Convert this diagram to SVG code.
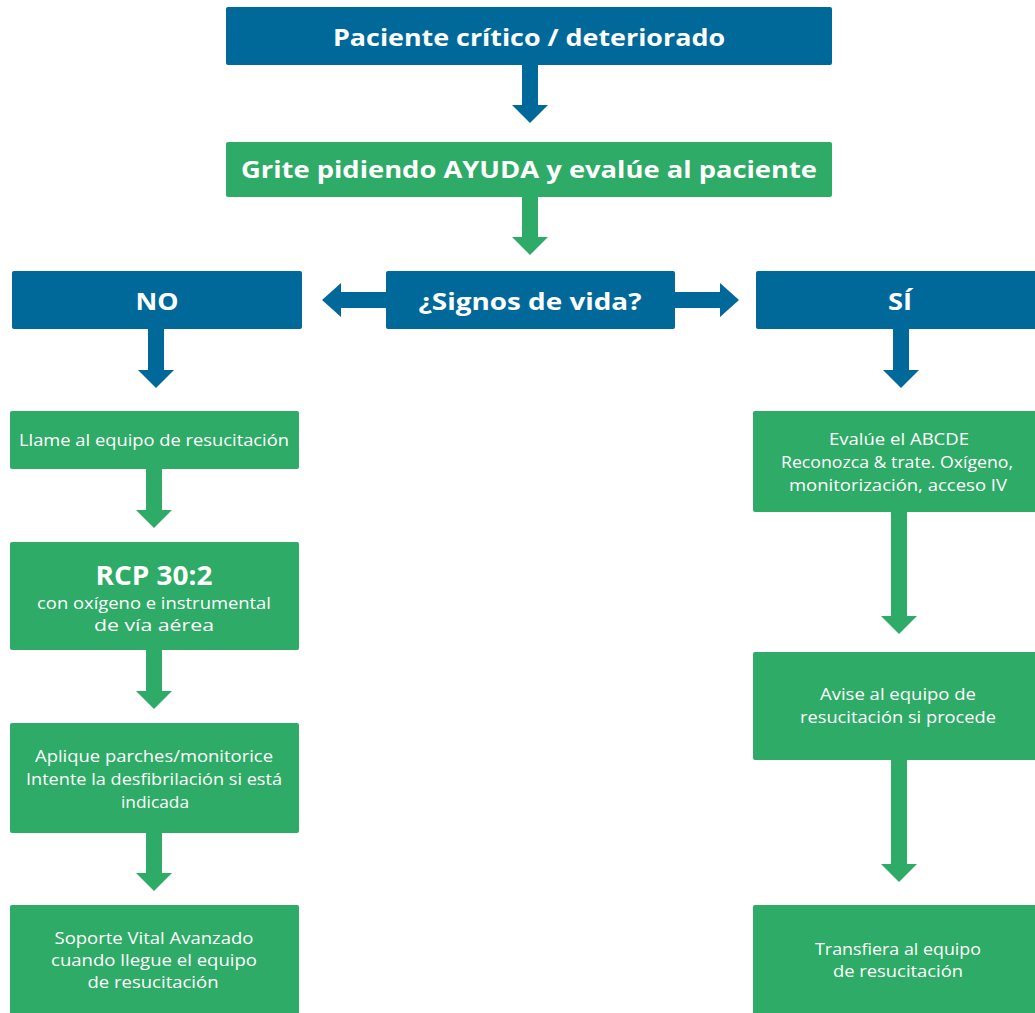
<svg xmlns="http://www.w3.org/2000/svg" width="1035" height="1013" viewBox="0 0 1035 1013">
<defs>
<style>
.blue{fill:#00699a}
.green{fill:#2eab66}
.t{fill:#fff;font-family:"Open Sans","Noto Sans","Liberation Sans",sans-serif;text-anchor:middle}
.b{font-weight:700}
.h{font-size:24px}
.s{font-size:16px}
</style>
</defs>
<rect width="1035" height="1013" fill="#fff"/>
<g id="connectors">
<polygon class="blue" points="522,64 538,64 538,105 548,105 530,123 512,105 522,105"/>
<polygon class="green" points="522,195 538,195 538,237 548,237 530,255 512,237 522,237"/>
<polygon class="blue" points="387,292 341,292 341,283 322,300 341,317 341,308 387,308"/>
<polygon class="blue" points="674,292 720,292 720,283 739,300 720,317 720,308 674,308"/>
<polygon class="blue" points="148,328 164,328 164,370 174,370 156,388 138,370 148,370"/>
<polygon class="blue" points="893,328 909,328 909,370 919,370 901,388 883,370 893,370"/>
<polygon class="green" points="146,468 162,468 162,510 172,510 154,528 136,510 146,510"/>
<polygon class="green" points="146,649 162,649 162,691 172,691 154,709 136,691 146,691"/>
<polygon class="green" points="146,832 162,832 162,873 172,873 154,891 136,873 146,873"/>
<polygon class="green" points="891,510 907,510 907,616 917,616 899,634 881,616 891,616"/>
<polygon class="green" points="891,759 907,759 907,864 917,864 899,882 881,864 891,864"/>
</g>
<g id="n-paciente">
<rect class="blue" x="226" y="7" width="606" height="58" rx="2"/>
<text class="t b h" x="529" y="46" textLength="392" lengthAdjust="spacingAndGlyphs">Paciente crítico / deteriorado</text>
</g>
<g id="n-grite">
<rect class="green" x="226" y="142" width="606" height="55" rx="2"/>
<text class="t b h" x="529" y="178" textLength="576" lengthAdjust="spacingAndGlyphs">Grite pidiendo AYUDA y evalúe al paciente</text>
</g>
<g id="n-signos">
<rect class="blue" x="386" y="271" width="289" height="58" rx="2"/>
<text class="t b h" x="530" y="310" textLength="223" lengthAdjust="spacingAndGlyphs">¿Signos de vida?</text>
</g>
<g id="n-no">
<rect class="blue" x="12" y="271" width="290" height="58" rx="2"/>
<text class="t b h" x="157" y="310" textLength="43" lengthAdjust="spacingAndGlyphs">NO</text>
</g>
<g id="n-si">
<rect class="blue" x="756" y="271" width="290" height="58" rx="2"/>
<text class="t b h" x="900" y="310" textLength="24" lengthAdjust="spacingAndGlyphs">SÍ</text>
</g>
<g id="n-llame">
<rect class="green" x="10" y="411" width="289" height="58" rx="2"/>
<text class="t s" x="154" y="446" textLength="270" lengthAdjust="spacingAndGlyphs">Llame al equipo de resucitación</text>
</g>
<g id="n-rcp">
<rect class="green" x="10" y="542" width="289" height="108" rx="2"/>
<text class="t b" x="154" y="585" font-size="26" textLength="117" lengthAdjust="spacingAndGlyphs">RCP 30:2</text>
<text class="t s" x="154" y="609" textLength="234" lengthAdjust="spacingAndGlyphs">con oxígeno e instrumental</text>
<text class="t s" x="154" y="631" textLength="120" lengthAdjust="spacingAndGlyphs">de vía aérea</text>
</g>
<g id="n-aplique">
<rect class="green" x="10" y="723" width="289" height="110" rx="2"/>
<text class="t s" x="154" y="762" textLength="238" lengthAdjust="spacingAndGlyphs">Aplique parches/monitorice</text>
<text class="t s" x="154" y="785" textLength="256" lengthAdjust="spacingAndGlyphs">Intente la desfibrilación si está</text>
<text class="t s" x="155" y="808" textLength="68" lengthAdjust="spacingAndGlyphs">indicada</text>
</g>
<g id="n-soporte">
<rect class="green" x="10" y="905" width="289" height="115" rx="2"/>
<text class="t s" x="154" y="944" textLength="199" lengthAdjust="spacingAndGlyphs">Soporte Vital Avanzado</text>
<text class="t s" x="154" y="966" textLength="206" lengthAdjust="spacingAndGlyphs">cuando llegue el equipo</text>
<text class="t s" x="153" y="988" textLength="131" lengthAdjust="spacingAndGlyphs">de resucitación</text>
</g>
<g id="n-evalue">
<rect class="green" x="753" y="411" width="290" height="101" rx="2"/>
<text class="t s" x="899" y="445" textLength="140" lengthAdjust="spacingAndGlyphs">Evalúe el ABCDE</text>
<text class="t s" x="897" y="468" textLength="232" lengthAdjust="spacingAndGlyphs">Reconozca &amp; trate. Oxígeno,</text>
<text class="t s" x="898" y="491" textLength="218" lengthAdjust="spacingAndGlyphs">monitorización, acceso IV</text>
</g>
<g id="n-avise">
<rect class="green" x="753" y="652" width="290" height="108" rx="2"/>
<text class="t s" x="898" y="700" textLength="156" lengthAdjust="spacingAndGlyphs">Avise al equipo de</text>
<text class="t s" x="898" y="723" textLength="196" lengthAdjust="spacingAndGlyphs">resucitación si procede</text>
</g>
<g id="n-transfiera">
<rect class="green" x="753" y="905" width="290" height="115" rx="2"/>
<text class="t s" x="898" y="955" textLength="166" lengthAdjust="spacingAndGlyphs">Transfiera al equipo</text>
<text class="t s" x="898" y="977" textLength="130" lengthAdjust="spacingAndGlyphs">de resucitación</text>
</g>
</svg>
